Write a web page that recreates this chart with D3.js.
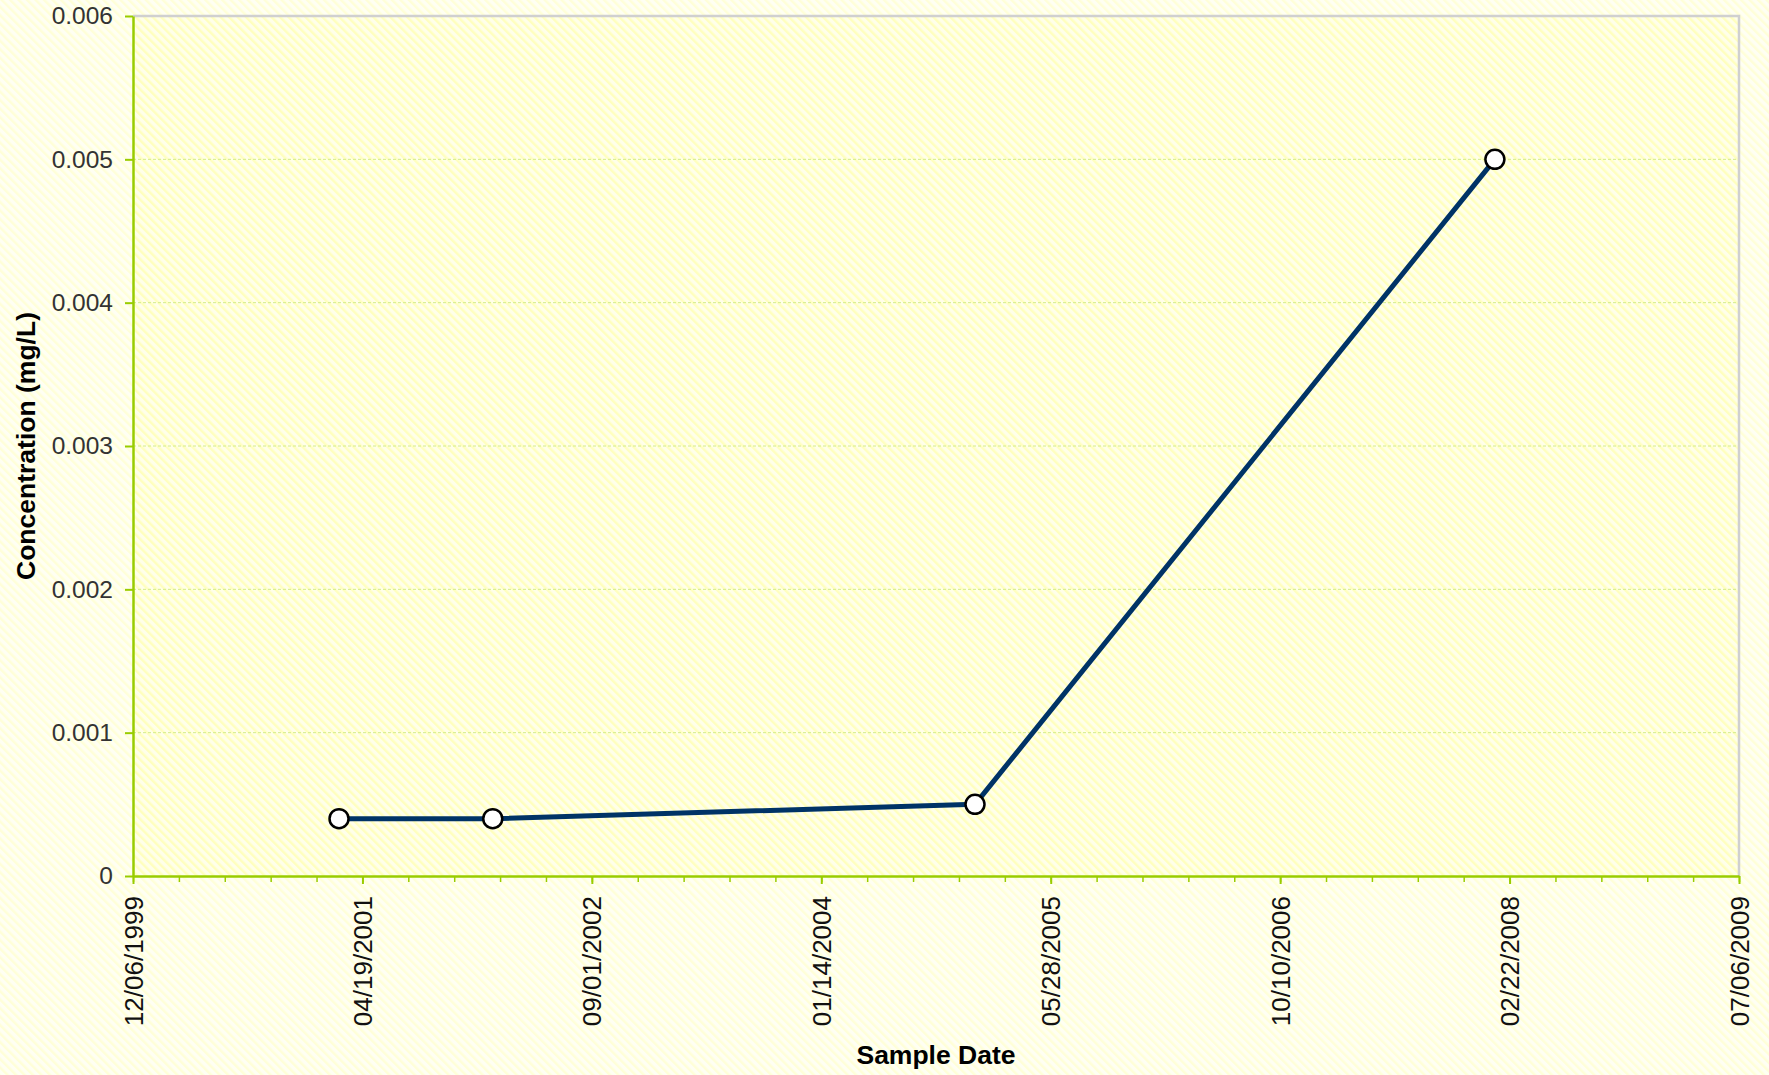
<!DOCTYPE html>
<html>
<head>
<meta charset="utf-8">
<script src="https://cdn.jsdelivr.net/npm/d3@7"></script>
<style>
  html, body { margin: 0; padding: 0; background: #fffff2; }
  svg { display: block; font-family: "Liberation Sans", Arial, sans-serif; }
</style>
</head>
<body>
<svg id="chart" width="1769" height="1075"></svg>
<script>
// ---- data ----
const sampleDates = ["02/27/2001", "01/28/2002", "12/14/2004", "01/21/2008"];
const concentrations = [0.0004, 0.0004, 0.0005, 0.005];
const xTickLabels = ["12/06/1999", "04/19/2001", "09/01/2002", "01/14/2004", "05/28/2005", "10/10/2006", "02/22/2008", "07/06/2009"];
const yTickValues = [0, 0.001, 0.002, 0.003, 0.004, 0.005, 0.006];
const xTitle = "Sample Date";
const yTitle = "Concentration (mg/L)";

// ---- layout ----
const W = 1769, H = 1075;
const margin = { left: 133, top: 16, right: 30, bottom: 199 };
const iw = W - margin.left - margin.right;
const ih = H - margin.top - margin.bottom;

const parse = d3.utcParse("%m/%d/%Y");
const fmt = d3.utcFormat("%m/%d/%Y");
const xTicks = xTickLabels.map(parse);
const points = sampleDates.map((d, i) => ({ date: parse(d), value: concentrations[i] }));

const svg = d3.select("#chart");
const defs = svg.append("defs");

function stripes(id, base, stripe, size, sw) {
  const p = defs.append("pattern")
    .attr("id", id).attr("patternUnits", "userSpaceOnUse")
    .attr("width", size).attr("height", size)
    .attr("patternTransform", "rotate(-45)");
  p.append("rect").attr("width", size).attr("height", size).attr("fill", base);
  p.append("rect").attr("width", sw).attr("height", size).attr("fill", stripe);
}
stripes("outerPat", "#fffff3", "#ffffd8", 6, 2.5);
stripes("plotPat", "#ffffea", "#ffffbe", 6, 2.5);

svg.append("rect").attr("width", W).attr("height", H).attr("fill", "url(#outerPat)");

const x = d3.scaleUtc().domain([xTicks[0], xTicks[xTicks.length - 1]]).range([0, iw]);
const y = d3.scaleLinear().domain([0, 0.006]).range([ih, 0]);

const g = svg.append("g").attr("transform", `translate(${margin.left},${margin.top})`);

g.append("rect").attr("width", iw).attr("height", ih).attr("fill", "url(#plotPat)");

// gridlines
g.append("g").selectAll("line")
  .data(yTickValues.filter(v => v > 0 && v < 0.006))
  .join("line")
  .attr("x1", 0).attr("x2", iw)
  .attr("y1", d => y(d)).attr("y2", d => y(d))
  .attr("stroke", "#d4ec8a").attr("stroke-width", 1)
  .attr("stroke-dasharray", "3,2");

// top & right border
g.append("path")
  .attr("d", `M0,0H${iw}V${ih}`)
  .attr("fill", "none").attr("stroke", "#d0d0d0").attr("stroke-width", 2.5);

// minor x ticks (every 100 days)
const minorTicks = [];
for (let t = +xTicks[0]; t <= +xTicks[xTicks.length - 1]; t += 100 * 864e5) minorTicks.push(new Date(t));
g.append("g").attr("transform", `translate(0,${ih})`)
  .call(d3.axisBottom(x).tickValues(minorTicks).tickSize(6).tickFormat(""))
  .call(s => s.select(".domain").remove())
  .call(s => s.selectAll("line").attr("stroke", "#99cc00").attr("stroke-width", 1.5));

// x axis
const xAxis = g.append("g").attr("transform", `translate(0,${ih})`)
  .call(d3.axisBottom(x).tickValues(xTicks).tickSize(8).tickSizeOuter(0).tickFormat(fmt).tickPadding(0));
xAxis.select(".domain").attr("stroke", "#99cc00").attr("stroke-width", 2.5);
xAxis.selectAll(".tick line").attr("stroke", "#99cc00").attr("stroke-width", 2);
xAxis.selectAll(".tick text")
  .attr("font-size", 26).attr("fill", "#111")
  .attr("transform", "rotate(-90)")
  .attr("text-anchor", "end")
  .attr("x", -20).attr("y", 0).attr("dy", "0.35em");

// y axis
const yAxis = g.append("g")
  .call(d3.axisLeft(y).tickValues(yTickValues).tickSize(8).tickSizeOuter(0)
    .tickFormat(d => d === 0 ? "0" : d3.format(".3f")(d)).tickPadding(12));
yAxis.select(".domain").attr("stroke", "#99cc00").attr("stroke-width", 2.5);
yAxis.selectAll(".tick line").attr("stroke", "#99cc00").attr("stroke-width", 2);
yAxis.selectAll(".tick text").attr("font-size", 24.5).attr("fill", "#333");

// line
g.append("path")
  .datum(points)
  .attr("fill", "none")
  .attr("stroke", "#003366")
  .attr("stroke-width", 5)
  .attr("stroke-linejoin", "round")
  .attr("d", d3.line().x(d => x(d.date)).y(d => y(d.value)));

g.append("g").selectAll("circle")
  .data(points)
  .join("circle")
  .attr("cx", d => x(d.date)).attr("cy", d => y(d.value))
  .attr("r", 9.5)
  .attr("fill", "#ffffff").attr("stroke", "#000").attr("stroke-width", 2.5);

// titles
svg.append("text")
  .attr("x", margin.left + iw / 2).attr("y", 1064)
  .attr("text-anchor", "middle").attr("font-weight", "bold").attr("font-size", 26.5)
  .attr("fill", "#000").text(xTitle);

svg.append("text")
  .attr("transform", `translate(35,${margin.top + ih / 2}) rotate(-90)`)
  .attr("text-anchor", "middle").attr("font-weight", "bold").attr("font-size", 26.5)
  .attr("fill", "#000").text(yTitle);
</script>
</body>
</html>
